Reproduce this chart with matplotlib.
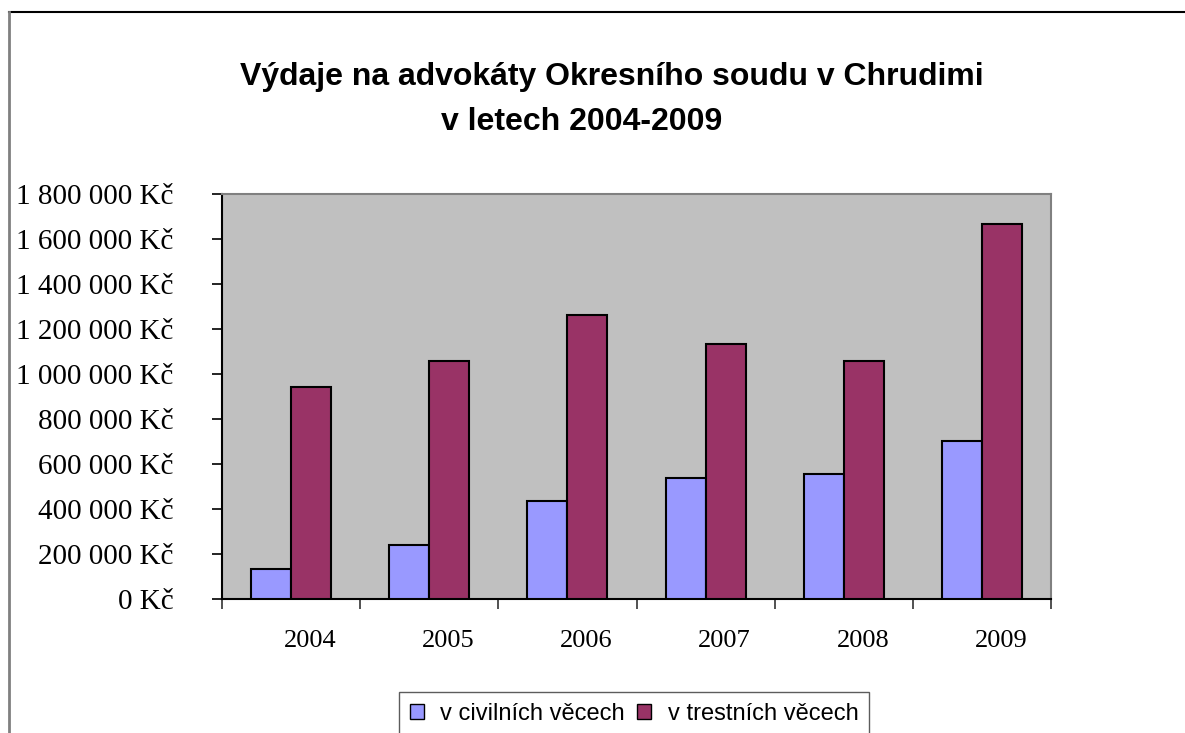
import matplotlib
matplotlib.use("Agg")
import matplotlib.pyplot as plt
import matplotlib.transforms as mtransforms
from matplotlib.lines import Line2D
from matplotlib.patches import Patch
from matplotlib.ticker import FuncFormatter, FixedLocator

years = ["2004", "2005", "2006", "2007", "2008", "2009"]
civilni = [135000, 240000, 435000, 539000, 557000, 702000]
trestni = [944000, 1057000, 1264000, 1134000, 1056000, 1668000]

title1 = "Výdaje na advokáty Okresního soudu v Chrudimi"
title2 = "v letech 2004-2009"
labels = ["v civilních věcech", "v trestních věcech"]

fig = plt.figure(figsize=(11.85, 7.33), dpi=100)
ax = fig.add_axes([222/1185, 1 - 599/733, (1051-222)/1185, (599-194)/733])

x = range(len(years))
w = 0.29
ax.bar([i - w/2 for i in x], civilni, w, color="#9999FF", edgecolor="black", linewidth=1.5, zorder=3)
ax.bar([i + w/2 for i in x], trestni, w, color="#993366", edgecolor="black", linewidth=1.5, zorder=3)

ax.set_facecolor("#C0C0C0")
ax.set_xlim(-0.5, 5.5)
ax.set_ylim(0, 1800000)

def kc(v, pos):
    s = f"{int(v):,}".replace(",", " ")
    return s + " Kč"

ax.set_yticks(range(0, 1800001, 200000))
ax.yaxis.set_major_formatter(FuncFormatter(kc))
ax.tick_params(axis="y", direction="out", length=7, width=1.2, pad=28,
               labelsize=21, labelfontfamily="Liberation Serif")

ax.set_xticks(list(x))
ax.set_xticklabels(years, fontsize=19, family="Liberation Serif")
ax.tick_params(axis="x", which="major", length=0, pad=22)
ax.xaxis.set_minor_locator(FixedLocator([i + 0.5 for i in range(-1, 6)]))
ax.tick_params(axis="x", which="minor", direction="out", length=7, width=1.2, color="#333333")
# labels in the original sit a little right of the group centre
shift = mtransforms.ScaledTranslation(19/100, 0, fig.dpi_scale_trans)
for lab in ax.get_xticklabels():
    lab.set_transform(lab.get_transform() + shift)

for s in ["top", "right"]:
    ax.spines[s].set_color("#808080")
    ax.spines[s].set_linewidth(1.5)
for s in ["left", "bottom"]:
    ax.spines[s].set_color("black")
    ax.spines[s].set_linewidth(1.5)

fig.text(612/1185, 1 - 77/733, title1, ha="center", va="center",
         fontsize=23, fontweight="bold", family="Liberation Sans")
fig.text(582/1185, 1 - 122/733, title2, ha="center", va="center",
         fontsize=23, fontweight="bold", family="Liberation Sans")

# outer chart frame
fig.add_artist(Line2D([9/1185, 1], [1 - 12/733, 1 - 12/733], color="black", linewidth=1.5))
fig.add_artist(Line2D([9/1185, 9/1185], [0, 1 - 12/733], color="#808080", linewidth=2))

handles = [Patch(facecolor="#9999FF", edgecolor="black"),
           Patch(facecolor="#993366", edgecolor="black")]
leg = fig.legend(handles, labels, loc="upper center", bbox_to_anchor=(634/1185, 1 - 692/733),
                 ncol=2, frameon=True, fancybox=False, edgecolor="#333333",
                 prop={"family": "Liberation Sans", "size": 17},
                 handlelength=0.6, handleheight=0.6, handletextpad=0.7,
                 columnspacing=0.5, borderpad=0.45, borderaxespad=0)
leg.get_frame().set_linewidth(1.0)

fig.savefig("out.png", dpi=100)
